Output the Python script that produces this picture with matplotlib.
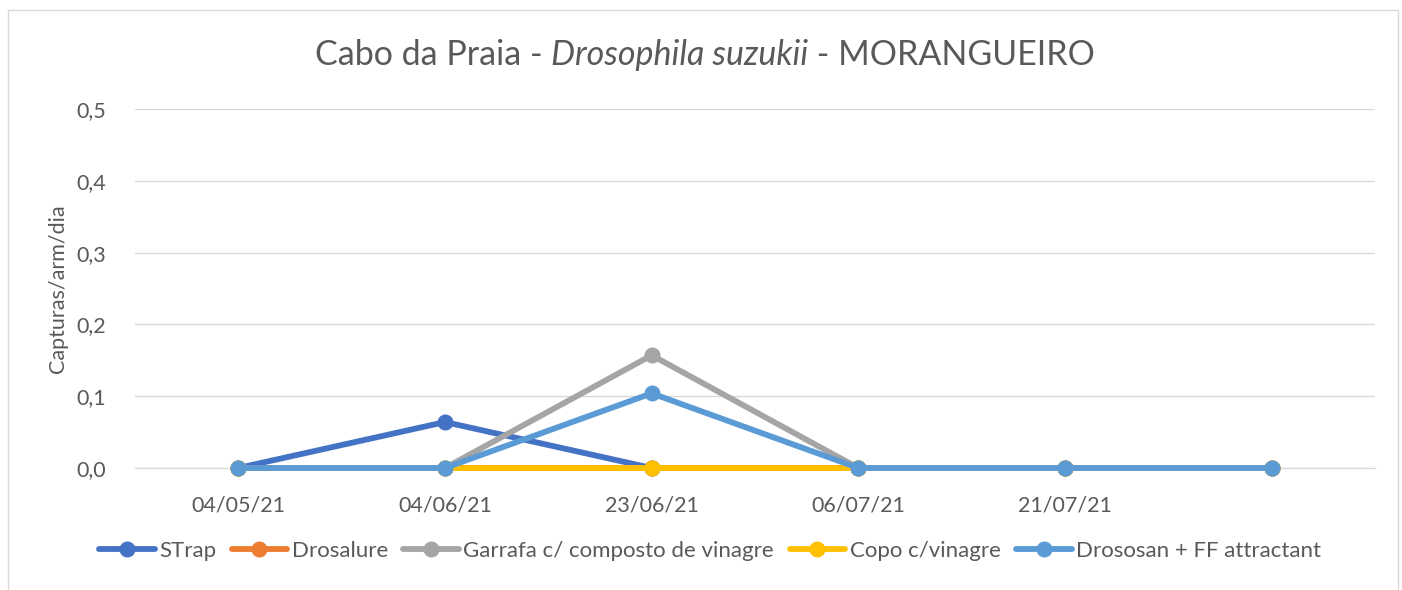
import matplotlib
matplotlib.use('Agg')
import matplotlib.pyplot as plt
from matplotlib.patches import Rectangle

plt.rcParams['font.family'] = ['Lato', 'DejaVu Sans']

# data
datas = ['04/05/21', '04/06/21', '23/06/21', '06/07/21', '21/07/21', '']
strap = [0, 0.064, 0, 0, 0, 0]
drosalure = [0, 0, 0, 0, 0, 0]
garrafa = [0, 0, 0.157, 0, 0, 0]
copo = [0, 0, 0, 0, 0, 0]
drososan = [0, 0, 0.104, 0, 0, 0]
series = [('STrap', strap, '#4472C4'),
          ('Drosalure', drosalure, '#ED7D31'),
          ('Garrafa c/ composto de vinagre', garrafa, '#A5A5A5'),
          ('Copo c/vinagre', copo, '#FFC000'),
          ('Drososan + FF attractant', drososan, '#5B9BD5')]
yticks = [0, 0.1, 0.2, 0.3, 0.4, 0.5]

W, H = 1402, 590
fig = plt.figure(figsize=(W / 100, H / 100), dpi=100)
fig.patches.append(Rectangle((8 / W, -0.01), (1398 - 8) / W, (H - 10) / H + 0.01,
                             transform=fig.transFigure, fill=False,
                             edgecolor='#D9D9D9', linewidth=1))
ax = fig.add_axes([135 / W, (H - 468) / H, (1375 - 135) / W, (468 - 109) / H])

x = list(range(len(datas)))
for nome, vals, cor in series:
    ax.plot(x, vals, color=cor, linewidth=4.2, marker='o', markersize=10.5,
            label=nome, solid_capstyle='round', clip_on=False, zorder=3)

ax.set_xlim(-0.5, len(datas) - 0.5)
ax.set_ylim(0, 0.5)
ax.set_yticks(yticks)
ax.set_yticklabels([f'{v:.1f}'.replace('.', ',') for v in yticks])
ax.set_xticks(x)
ax.set_xticklabels(datas)
ax.grid(axis='y', color='#D9D9D9', linewidth=1)
ax.set_axisbelow(True)
for s in ['top', 'right', 'left']:
    ax.spines[s].set_visible(False)
ax.spines['bottom'].set_color('#D9D9D9')
ax.spines['bottom'].set_zorder(1)
ax.tick_params(axis='both', length=0, labelsize=15.5, colors='#595959')
ax.tick_params(axis='x', pad=20)
ax.tick_params(axis='y', pad=21)
ax.set_ylabel('Capturas/arm/dia', fontsize=15.5, color='#595959', labelpad=6)

leg = ax.legend(loc='center', bbox_to_anchor=(710 / W, (H - 551) / H), bbox_transform=fig.transFigure,
                ncol=5, frameon=False, fontsize=16, handlelength=2.5,
                handletextpad=0.2, columnspacing=0.7, labelcolor='#595959')

# title with italic part
partes = [('Cabo da Praia - ', 'normal'), ('Drosophila suzukii', 'italic'), (' - MORANGUEIRO', 'normal')]
fig.canvas.draw()
r = fig.canvas.get_renderer()
txts = [fig.text(0, 0, p, fontsize=24.5, style=st, color='#595959', va='center') for p, st in partes]
larg = [t.get_window_extent(r).width for t in txts]
x0 = 705 - sum(larg) / 2
for t, w in zip(txts, larg):
    t.set_position((x0 / W, (H - 55) / H))
    x0 += w

fig.savefig('out.png', dpi=100)
